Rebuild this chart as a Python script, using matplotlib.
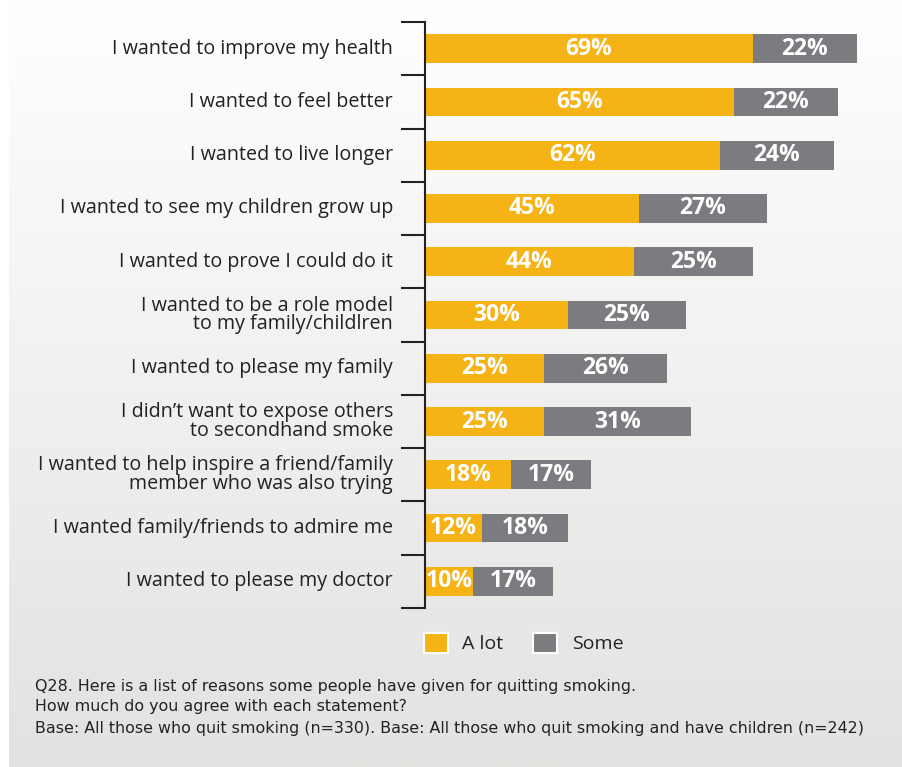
import numpy as np
import matplotlib
matplotlib.use("Agg")
import matplotlib.pyplot as plt
from matplotlib.patches import Patch

reasons = [
    "I wanted to improve my health",
    "I wanted to feel better",
    "I wanted to live longer",
    "I wanted to see my children grow up",
    "I wanted to prove I could do it",
    "I wanted to be a role model\nto my family/childlren",
    "I wanted to please my family",
    "I didn\u2019t want to expose others\nto secondhand smoke",
    "I wanted to help inspire a friend/family\nmember who was also trying",
    "I wanted family/friends to admire me",
    "I wanted to please my doctor",
]
a_lot = [69, 65, 62, 45, 44, 30, 25, 25, 18, 12, 10]
some = [22, 22, 24, 27, 25, 25, 26, 31, 17, 18, 17]

ORANGE = "#f5b316"
GREY = "#7a7c7f"
FONT = ["Open Sans", "DejaVu Sans"]
plt.rcParams["font.family"] = FONT

W, H = 902, 767
fig = plt.figure(figsize=(W / 100, H / 100), dpi=100)

# soft vertical gradient panel behind everything
bg = fig.add_axes([9 / W, 0, 1 - 9 / W, 1], zorder=-10)
grad = np.linspace(1.0, 0.0, 256)[:, None]
top = np.array([1.0, 1.0, 1.0])
bottom = np.array([226, 226, 224]) / 255
img = top * grad[..., None] + bottom * (1 - grad[..., None])
bg.imshow(img, aspect="auto", extent=[0, 1, 0, 1])
bg.axis("off")

ax_left, ax_top, ax_bottom = 425, 22, 608
px_per_pct = 4.75
ax = fig.add_axes([ax_left / W, 1 - ax_bottom / H, 100 * px_per_pct / W, (ax_bottom - ax_top) / H])
ax.patch.set_alpha(0)

y = np.arange(len(reasons))
h = 0.54
ax.barh(y, a_lot, height=h, color=ORANGE, label="A lot")
ax.barh(y, some, left=a_lot, height=h, color=GREY, label="Some")

for yi, a, s in zip(y, a_lot, some):
    ax.text(a / 2, yi, f"{a}%", ha="center", va="center", color="white",
            fontsize=16.5, fontweight="bold")
    ax.text(a + s / 2, yi, f"{s}%", ha="center", va="center", color="white",
            fontsize=16.5, fontweight="bold")

ax.set_xlim(0, 100)
ax.set_ylim(len(reasons) - 0.5, -0.5)
ax.set_xticks([])
ax.set_yticks(np.arange(-0.5, len(reasons)), minor=False)
ax.set_yticklabels([])
ax.tick_params(axis="y", direction="out", length=17, width=1.5, color="#222222")
for yi, label in zip(y, reasons):
    ax.text(-32 / px_per_pct, yi, label, ha="right", va="center", fontsize=14.2,
            color="#222222", linespacing=0.92)
for side in ("top", "right", "bottom"):
    ax.spines[side].set_visible(False)
ax.spines["left"].set_linewidth(1.5)
ax.spines["left"].set_color("#222222")

handles = [Patch(facecolor=ORANGE, edgecolor="white", linewidth=1.5, label="A lot"),
           Patch(facecolor=GREY, edgecolor="white", linewidth=1.5, label="Some")]
fig.legend(handles=handles, loc="center left", bbox_to_anchor=(406 / W, 1 - 643 / H),
           ncol=2, frameon=False, fontsize=14, handlelength=1.25, handleheight=1.25,
           handletextpad=0.75, columnspacing=1.5, labelcolor="#222222")

notes = [
    "Q28. Here is a list of reasons some people have given for quitting smoking.",
    "How much do you agree with each statement?",
    "Base: All those who quit smoking (n=330). Base: All those who quit smoking and have children (n=242)",
]
for i, line in enumerate(notes):
    fig.text(35 / W, 1 - (686 + i * 21) / H, line, ha="left", va="center", fontsize=11.4,
             color="#222222", family=["DejaVu Sans"])

fig.savefig("out.png", dpi=100)
